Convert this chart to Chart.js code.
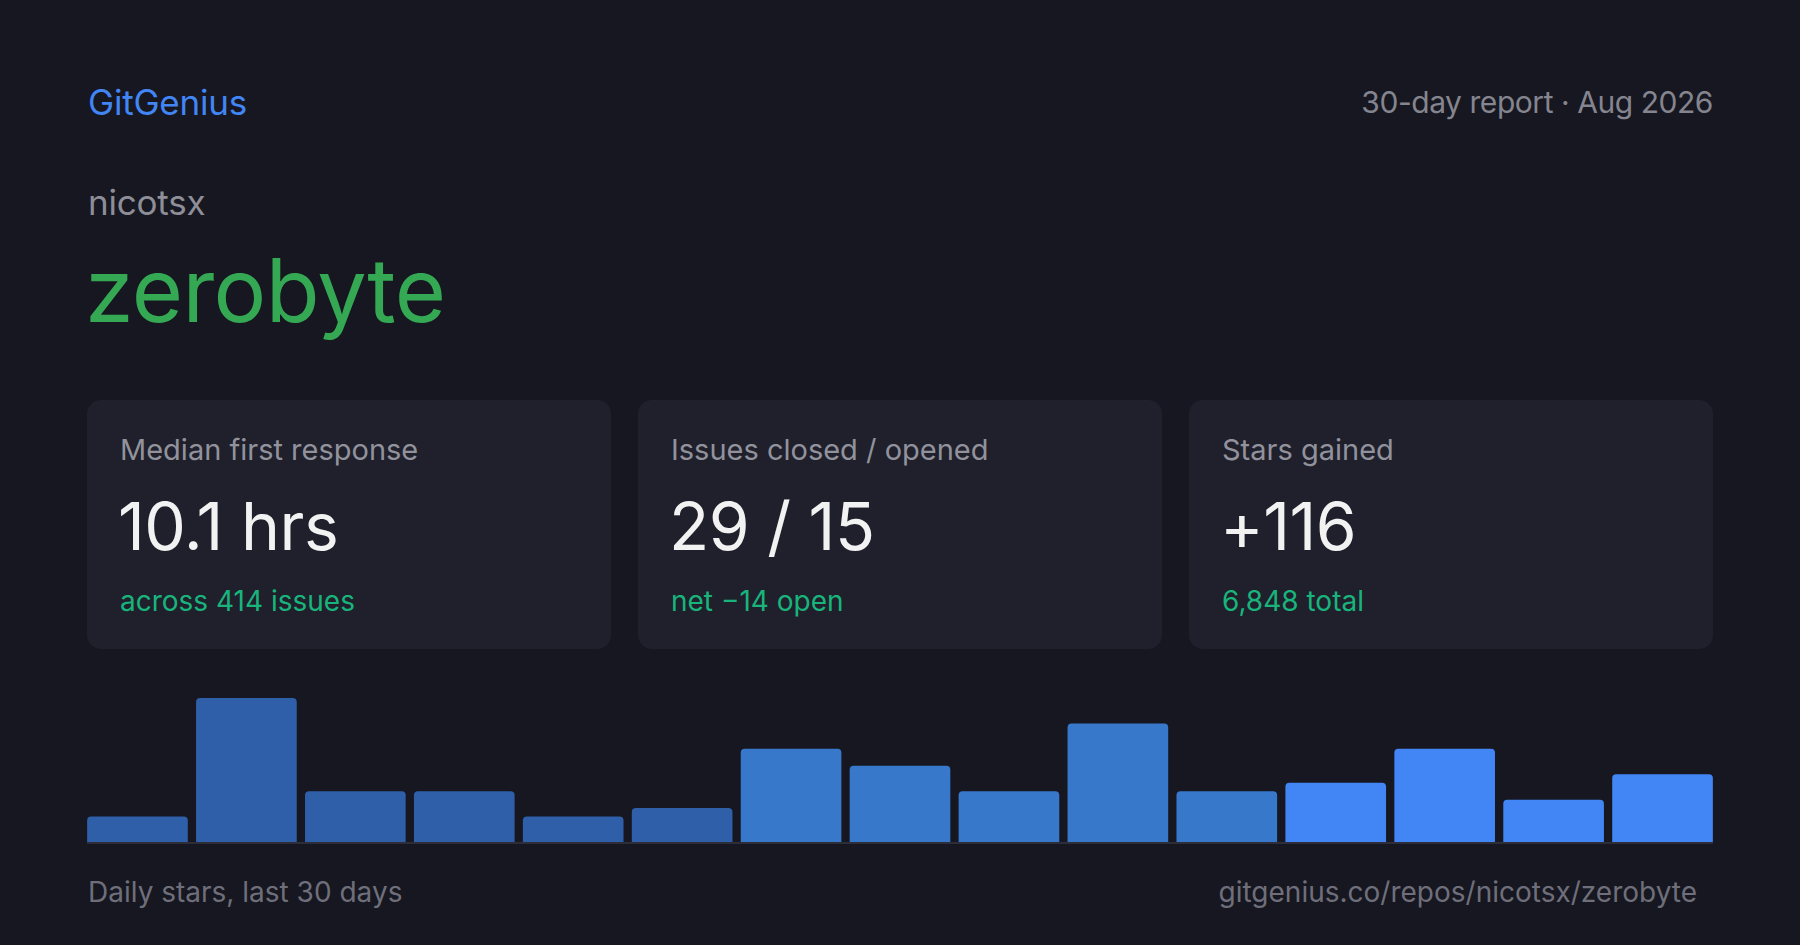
<!DOCTYPE html>
<html lang="en">
<head>
  <meta charset="UTF-8">
  <title>GitGenius - zerobyte</title>
  <script src="https://cdn.jsdelivr.net/npm/chart.js"></script>
  <style>
    html, body {
      margin: 0;
      padding: 0;
      background: #161720;
      width: 1800px;
      height: 945px;
      overflow: hidden;
      font-family: 'Inter', 'Noto Sans', sans-serif;
    }
    .abs {
      position: absolute;
      line-height: 1;
      white-space: nowrap;
    }
    .brand { left: 88px; top: 85px; font-size: 35px; color: #4285f4; letter-spacing: -0.2px; }
    .period { right: 87px; top: 87px; font-size: 30px; color: #85858f; letter-spacing: -0.45px; }
    .owner { left: 88px; top: 185px; font-size: 35px; color: #8e8e99; letter-spacing: -0.2px; }
    .repo { left: 85px; top: 246px; font-size: 88px; color: #34a853; letter-spacing: -0.6px; }
    .card {
      position: absolute;
      top: 400px;
      width: 524px;
      height: 249px;
      background: #1f202b;
      border-radius: 14px;
    }
    .card .label { left: 33px; top: 35px; font-size: 29px; color: #92929d; }
    .card .value { left: 31px; top: 93px; font-size: 66px; color: #f2f2f2; letter-spacing: -0.5px; }
    .card .sub { left: 33px; top: 187px; font-size: 28px; color: #19b47c; }
    #chartBox {
      position: absolute;
      left: 83px;
      top: 698px;
      width: 1634px;
      height: 144px;
    }
    .baseline {
      position: absolute;
      left: 87px;
      top: 842px;
      width: 1626px;
      height: 2px;
      background: #2c2d39;
    }
    .foot { top: 878px; font-size: 28px; color: #6f6f7b; }
    .foot.left { left: 88px; }
    .foot.right { right: 103px; }
  </style>
</head>
<body>
  <div class="abs brand">GitGenius</div>
  <div class="abs period">30-day report · Aug 2026</div>
  <div class="abs owner">nicotsx</div>
  <div class="abs repo">zerobyte</div>

  <div id="cards"></div>

  <div id="chartBox"><canvas id="starsChart"></canvas></div>
  <div class="baseline"></div>

  <div class="abs foot left">Daily stars, last 30 days</div>
  <div class="abs foot right">gitgenius.co/repos/nicotsx/zerobyte</div>

  <script>
    // stat cards
    const cardTitles = ['Median first response', 'Issues closed / opened', 'Stars gained'];
    const cardValues = ['10.1 hrs', '29 / 15', '+116'];
    const cardNotes = ['across 414 issues', 'net −14 open', '6,848 total'];

    // daily stars, grouped in 2-day buckets
    const buckets = ['1', '2', '3', '4', '5', '6', '7', '8', '9', '10', '11', '12', '13', '14', '15'];
    const stars = [3, 17, 6, 6, 3, 4, 11, 9, 6, 14, 6, 7, 11, 5, 8];

    const cardLefts = [87, 638, 1189];
    const cardsEl = document.getElementById('cards');
    cardTitles.forEach((title, i) => {
      const card = document.createElement('div');
      card.className = 'card';
      card.style.left = cardLefts[i] + 'px';
      card.innerHTML =
        `<div class="abs label">${title}</div>` +
        `<div class="abs value">${cardValues[i]}</div>` +
        `<div class="abs sub">${cardNotes[i]}</div>`;
      cardsEl.appendChild(card);
    });

    function shade(i) {
      if (i < 6) return '#2f5fa9';
      if (i < 11) return '#3778cb';
      return '#4285f4';
    }

    new Chart(document.getElementById('starsChart'), {
      type: 'bar',
      data: {
        labels: buckets,
        datasets: [{
          data: stars,
          backgroundColor: stars.map((v, i) => shade(i)),
          borderRadius: 4,
          borderSkipped: 'start',
          categoryPercentage: 0.924,
          barPercentage: 1
        }]
      },
      options: {
        responsive: true,
        maintainAspectRatio: false,
        animation: false,
        layout: { padding: 0 },
        plugins: {
          legend: { display: false },
          tooltip: { enabled: false }
        },
        scales: {
          x: { display: false },
          y: { display: false, min: 0, max: 17 }
        }
      }
    });
  </script>
</body>
</html>
